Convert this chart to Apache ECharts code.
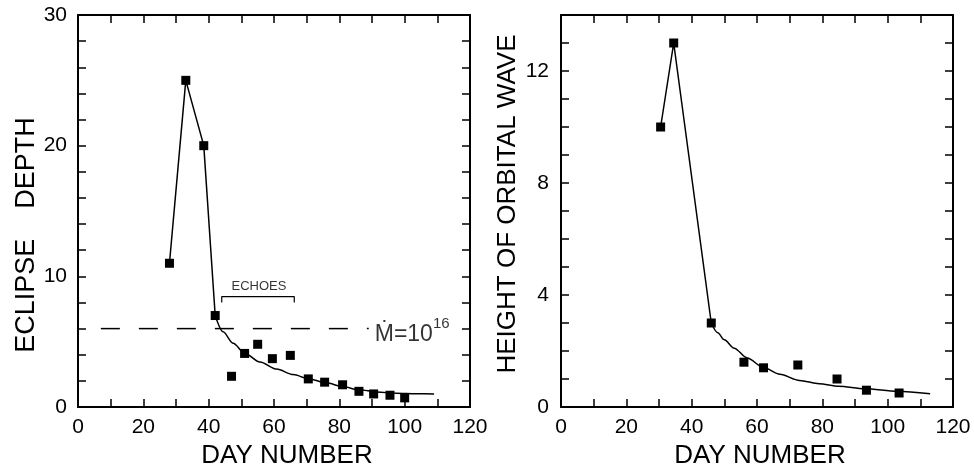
<!DOCTYPE html>
<html>
<head>
<meta charset="utf-8">
<script src="https://cdn.jsdelivr.net/npm/echarts@6/dist/echarts.min.js"></script>
<style>
  html, body { margin: 0; padding: 0; background: #fff; }
  #chart { width: 974px; height: 474px; }
</style>
</head>
<body>
<div id="chart"></div>
<script>
// ---- Left panel: eclipse depth ----
const leftDays = [28, 33, 38.5, 42, 47, 51, 55, 59.5, 65, 70.5, 75.5, 81, 86, 90.5, 95.5, 100];
const eclipseDepth = [11, 25, 20, 7, 2.35, 4.1, 4.8, 3.7, 3.95, 2.15, 1.9, 1.7, 1.2, 1.0, 0.9, 0.7];
const leftPeakDays = [28, 33, 38.5, 42];
const leftPeakDepth = [11, 25, 20, 7];
const leftCurveDays = [42, 44.4, 47.5, 51, 55.7, 60.8, 65.9, 70.5, 76, 81, 86, 91.5, 97.5, 103.5, 109];
const leftCurveDepth = [7, 5.75, 4.87, 4.12, 3.44, 2.9, 2.48, 2.17, 1.85, 1.56, 1.32, 1.15, 1.05, 1.01, 1.0];
const mdotLevel = 6;
const mdotSpan = [7, 89];
const echoesSpan = [44, 66.2];
const echoesBracket = [8.0, 8.45];
const echoesLabelAt = [55.4, 9.2];

// ---- Right panel: height of orbital wave ----
const rightDays = [30.5, 34.5, 46, 56, 62, 72.5, 84.5, 93.5, 103.5];
const waveHeight = [10, 13, 3, 1.6, 1.4, 1.5, 1.0, 0.6, 0.5];
const rightPeakDays = [30.5, 34.5, 46];
const rightPeakHeight = [10, 13, 3];
const rightCurveDays = [46, 48, 50, 53, 57, 62, 67, 73, 79, 85, 93, 103, 113];
const rightCurveHeight = [3.0, 2.65, 2.4, 2.1, 1.75, 1.41, 1.17, 0.95, 0.83, 0.74, 0.65, 0.56, 0.47];

// ---- Tick labels ----
const dayTickLabels = ['0', '20', '40', '60', '80', '100', '120'];
const depthTickLabels = ['0', '10', '20', '30'];
const waveTickLabels = ['0', '4', '8', '12'];

const FONT = '"Liberation Sans", Arial, Helvetica, sans-serif';
const INK = '#000';

const pairs = (xs, ys) => xs.map((x, i) => [x, ys[i]]);
const pick = list => v => (list.indexOf(String(v)) >= 0 ? String(v) : '');

function frameAxis(base) {
  return Object.assign({
    type: 'value',
    axisLine: { show: true, onZero: false, lineStyle: { color: INK, width: 2 } },
    axisTick: { show: true, inside: true, length: 8, lineStyle: { color: INK, width: 1.5 } },
    splitLine: { show: false },
    axisLabel: { show: false }
  }, base);
}

const xCommon = { min: 0, max: 120, interval: 10 };
const labelStyle = { color: INK, fontFamily: FONT, fontSize: 21 };
const markStyle = { color: INK, opacity: 1 };

const option = {
  backgroundColor: '#fff',
  animation: false,
  grid: [
    { left: 78, top: 15, width: 392, height: 398 },
    { left: 561, top: 15, width: 392, height: 397 }
  ],
  xAxis: [
    frameAxis(Object.assign({}, xCommon, {
      gridIndex: 0, position: 'bottom',
      axisLabel: Object.assign({ show: true, margin: 10, formatter: pick(dayTickLabels) }, labelStyle),
      name: 'DAY NUMBER', nameLocation: 'middle', nameGap: 36,
      nameTextStyle: { color: INK, fontFamily: FONT, fontSize: 26, padding: [0, 0, 0, 26] }
    })),
    frameAxis(Object.assign({}, xCommon, { gridIndex: 0, position: 'top' })),
    frameAxis(Object.assign({}, xCommon, {
      gridIndex: 1, position: 'bottom',
      axisLabel: Object.assign({ show: true, margin: 10, formatter: pick(dayTickLabels) }, labelStyle),
      name: 'DAY NUMBER', nameLocation: 'middle', nameGap: 36,
      nameTextStyle: { color: INK, fontFamily: FONT, fontSize: 26, padding: [0, 0, 0, 6] }
    })),
    frameAxis(Object.assign({}, xCommon, { gridIndex: 1, position: 'top' }))
  ],
  yAxis: [
    frameAxis({
      gridIndex: 0, position: 'left', min: 0, max: 30, interval: 2,
      axisLabel: Object.assign({ show: true, margin: 11, formatter: pick(depthTickLabels) }, labelStyle),
      name: 'ECLIPSE    DEPTH', nameLocation: 'middle', nameGap: 38,
      nameTextStyle: { color: INK, fontFamily: FONT, fontSize: 27, padding: [0, 48, 0, 0] }
    }),
    frameAxis({ gridIndex: 0, position: 'right', min: 0, max: 30, interval: 2 }),
    frameAxis({
      gridIndex: 1, position: 'left', min: 0, max: 14, interval: 1,
      axisLabel: Object.assign({ show: true, margin: 12, formatter: pick(waveTickLabels) }, labelStyle),
      name: 'HEIGHT OF ORBITAL WAVE', nameLocation: 'middle', nameGap: 40,
      nameTextStyle: { color: INK, fontFamily: FONT, fontSize: 26, padding: [0, 0, 0, 14] }
    }),
    frameAxis({ gridIndex: 1, position: 'right', min: 0, max: 14, interval: 1 })
  ],
  series: [
    // left: rising/falling segments through the early points
    {
      type: 'line', xAxisIndex: 0, yAxisIndex: 0, data: pairs(leftPeakDays, leftPeakDepth),
      symbol: 'none', lineStyle: { color: INK, width: 1.5 }, z: 3
    },
    // left: decay curve
    {
      type: 'line', xAxisIndex: 0, yAxisIndex: 0, data: pairs(leftCurveDays, leftCurveDepth),
      symbol: 'none', smooth: 0.3, smoothMonotone: 'x', lineStyle: { color: INK, width: 1.5 }, z: 3
    },
    // left: observed depths
    {
      type: 'scatter', xAxisIndex: 0, yAxisIndex: 0, data: pairs(leftDays, eclipseDepth),
      symbol: 'rect', symbolSize: 9, itemStyle: markStyle, z: 4
    },
    // left: accretion-rate reference level
    {
      type: 'line', xAxisIndex: 0, yAxisIndex: 0,
      data: [[mdotSpan[0], mdotLevel], [mdotSpan[1], mdotLevel]],
      symbol: 'none',
      lineStyle: { color: INK, width: 1.5, type: [19, 19] }, z: 2
    },
    {
      type: 'scatter', xAxisIndex: 0, yAxisIndex: 0, data: [[mdotSpan[1], mdotLevel]],
      symbolSize: 0, silent: true,
      label: {
        show: true, position: 'right', distance: 6, offset: [0, 3],
        formatter: '{m|Ṁ=10}{s|16}',
        rich: {
          m: { fontFamily: FONT, fontSize: 23, color: INK, lineHeight: 30, verticalAlign: 'bottom' },
          s: { fontFamily: FONT, fontSize: 15, color: INK, lineHeight: 16, verticalAlign: 'top' }
        }
      }
    },
    // left: echoes bracket
    {
      type: 'line', xAxisIndex: 0, yAxisIndex: 0,
      data: [
        [echoesSpan[0], echoesBracket[0]], [echoesSpan[0], echoesBracket[1]],
        [echoesSpan[1], echoesBracket[1]], [echoesSpan[1], echoesBracket[0]]
      ],
      symbol: 'none', lineStyle: { color: INK, width: 1.2 }, z: 2
    },
    {
      type: 'scatter', xAxisIndex: 0, yAxisIndex: 0, data: [echoesLabelAt],
      symbolSize: 0, silent: true,
      label: { show: true, position: 'inside', formatter: 'ECHOES', fontFamily: FONT, fontSize: 13, color: INK }
    },
    // right: early segments
    {
      type: 'line', xAxisIndex: 2, yAxisIndex: 2, data: pairs(rightPeakDays, rightPeakHeight),
      symbol: 'none', lineStyle: { color: INK, width: 1.5 }, z: 3
    },
    // right: decay curve
    {
      type: 'line', xAxisIndex: 2, yAxisIndex: 2, data: pairs(rightCurveDays, rightCurveHeight),
      symbol: 'none', smooth: 0.3, smoothMonotone: 'x', lineStyle: { color: INK, width: 1.5 }, z: 3
    },
    // right: observed wave heights
    {
      type: 'scatter', xAxisIndex: 2, yAxisIndex: 2, data: pairs(rightDays, waveHeight),
      symbol: 'rect', symbolSize: 9, itemStyle: markStyle, z: 4
    }
  ]
};

const chart = echarts.init(document.getElementById('chart'), null, { renderer: 'canvas' });
chart.setOption(option);
</script>
</body>
</html>
